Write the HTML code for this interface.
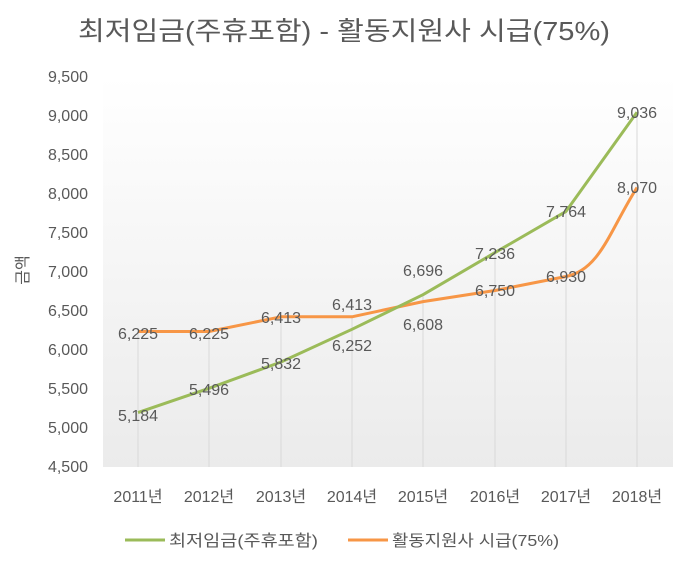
<!DOCTYPE html><html><head><meta charset="utf-8"><style>body{margin:0;background:#fff}svg text{font-family:"Liberation Sans","Noto Sans CJK KR",sans-serif;fill:#595959}</style></head><body>
<svg width="690" height="563" xmlns="http://www.w3.org/2000/svg">
<defs><linearGradient id="g" x1="0" y1="0" x2="0" y2="1"><stop offset="0" stop-color="#fff"/><stop offset="1" stop-color="#ebebeb"/></linearGradient></defs>
<rect width="690" height="563" fill="#fff"/>
<rect x="103" y="76" width="570" height="391" fill="url(#g)"/>
<text x="78" y="40" font-size="26" textLength="532" lengthAdjust="spacingAndGlyphs">최저임금(주휴포함) - 활동지원사 시급(75%)</text>
<g font-size="16" text-anchor="end">
<text x="88" y="82">9,500</text><text x="88" y="121">9,000</text><text x="88" y="160">8,500</text><text x="88" y="199">8,000</text><text x="88" y="238">7,500</text><text x="88" y="277">7,000</text><text x="88" y="316">6,500</text><text x="88" y="355">6,000</text><text x="88" y="394">5,500</text><text x="88" y="433">5,000</text><text x="88" y="472">4,500</text></g>
<text transform="translate(28,270) rotate(-90)" font-size="16" text-anchor="middle">금액</text>
<g stroke="#d9d9d9" stroke-width="1">
<line x1="138" y1="331" x2="138" y2="467"/><line x1="209" y1="331" x2="209" y2="467"/><line x1="281" y1="317" x2="281" y2="467"/><line x1="352" y1="317" x2="352" y2="467"/><line x1="423" y1="295" x2="423" y2="467"/><line x1="495" y1="253" x2="495" y2="467"/><line x1="566" y1="211" x2="566" y2="467"/><line x1="637" y1="112" x2="637" y2="467"/></g>
<g font-size="16" text-anchor="middle">
<text x="138" y="502">2011년</text><text x="209" y="502">2012년</text><text x="281" y="502">2013년</text><text x="352" y="502">2014년</text><text x="423" y="502">2015년</text><text x="495" y="502">2016년</text><text x="566" y="502">2017년</text><text x="637" y="502">2018년</text></g>
<path fill="none" stroke="#f79646" stroke-width="3" stroke-linejoin="round" d="M138,331.5 L209,331.5 L281,316.8 L352,316.8 L423,301.6 L495,290.5 L566,276.5 C600,270 610,230 637,187.5"/>
<polyline fill="none" stroke="#9bbb59" stroke-width="3" stroke-linejoin="round" points="138,412.6 209,388.3 281,362 352,329.3 423,294.7 495,252.6 566,211.4 637,112.2"/>
<g font-size="16" text-anchor="middle">
<text x="138" y="339">6,225</text><text x="209" y="339">6,225</text><text x="281" y="323">6,413</text><text x="352" y="310">6,413</text><text x="423" y="330">6,608</text><text x="495" y="296">6,750</text><text x="566" y="282">6,930</text><text x="637" y="193">8,070</text>
<text x="138" y="421">5,184</text><text x="209" y="395">5,496</text><text x="281" y="369">5,832</text><text x="352" y="351">6,252</text><text x="423" y="276">6,696</text><text x="495" y="259">7,236</text><text x="566" y="217">7,764</text><text x="637" y="118">9,036</text></g>
<line x1="125" y1="540" x2="165" y2="540" stroke="#9bbb59" stroke-width="3"/>
<text x="169" y="546" font-size="16" textLength="149" lengthAdjust="spacingAndGlyphs">최저임금(주휴포함)</text>
<line x1="348" y1="540" x2="388" y2="540" stroke="#f79646" stroke-width="3"/>
<text x="392" y="546" font-size="16" textLength="167" lengthAdjust="spacingAndGlyphs">활동지원사 시급(75%)</text>
</svg></body></html>
